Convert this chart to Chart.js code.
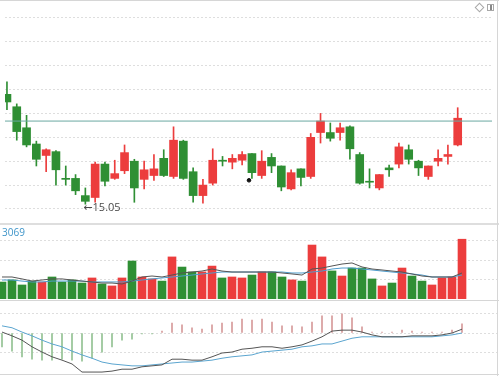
<!DOCTYPE html>
<html>
<head>
<meta charset="utf-8">
<script src="https://cdn.jsdelivr.net/npm/chart.js@4"></script>
<style>
  html, body { margin: 0; padding: 0; background: #fff; }
  #wrap { position: relative; width: 499px; height: 376px; overflow: hidden; font-family: "Open Sans", "DejaVu Sans", sans-serif; }
  .panel { position: absolute; left: 0; width: 497px; }
  .hline { position: absolute; left: 0; width: 499px; background: #d6d6d6; }
  .vline { position: absolute; top: 0; width: 1px; height: 376px; background: #d6d6d6; }
  #volLabel { position: absolute; left: 2px; top: 225px; font-size: 10px; color: #3f95c9; }
  #icoDiamond { position: absolute; left: 476px; top: 4px; width: 5px; height: 5px; border: 1px solid #a8a8a8; transform: rotate(45deg); }
  #icoBox { position: absolute; left: 487px; top: 4px; width: 5px; height: 5px; border: 1px solid #a8a8a8; }
  #icoBox div { position: absolute; left: 2px; top: 0; width: 2px; height: 5px; background: #888; }
</style>
</head>
<body>
<div id="wrap">
  <div class="panel" style="top:0;height:224px"><canvas id="kChart" width="497" height="224"></canvas></div>
  <div class="panel" style="top:224px;height:75px"><canvas id="volChart" width="497" height="75"></canvas></div>
  <div class="panel" style="top:300px;height:76px"><canvas id="macdChart" width="497" height="76"></canvas></div>
  <div class="hline" style="top:0;height:1px"></div>
  <div class="hline" style="top:223px;height:2px;background:#dedede"></div>
  <div class="hline" style="top:300px;height:1px"></div>
  <div class="hline" style="top:374px;height:1px"></div>
  <div class="vline" style="left:497px"></div>
  <div id="volLabel">3069</div>
  <div id="icoDiamond"></div>
  <div id="icoBox"><div></div></div>
</div>
<script>
// price candles (red = up, green = down)
const openPx  = [16.20,16.07,15.85,15.68,15.56,15.60,15.32,15.32,15.14,15.12,15.47,15.32,15.40,15.50,15.31,15.35,15.53,15.34,15.71,15.39,15.14,15.27,15.51,15.49,15.51,15.58,15.35,15.54,15.45,15.21,15.42,15.34,15.80,15.80,15.80,15.86,15.57,15.29,15.22,15.43,15.47,15.62,15.50,15.34,15.50,15.55,15.67];
const closePx = [16.12,15.81,15.67,15.52,15.62,15.41,15.31,15.19,15.08,15.47,15.29,15.37,15.59,15.22,15.41,15.42,15.35,15.72,15.32,15.14,15.25,15.51,15.50,15.53,15.57,15.38,15.50,15.45,15.23,15.38,15.33,15.75,15.92,15.74,15.85,15.63,15.27,15.28,15.36,15.41,15.65,15.52,15.43,15.45,15.53,15.57,15.95];
const highPx  = [16.33,16.10,15.98,15.71,15.63,15.61,15.45,15.36,15.22,15.49,15.49,15.51,15.67,15.52,15.50,15.57,15.62,15.86,15.72,15.43,15.31,15.63,15.55,15.57,15.60,15.58,15.61,15.58,15.45,15.41,15.42,15.79,16.00,15.90,15.90,15.87,15.59,15.42,15.36,15.46,15.69,15.67,15.51,15.45,15.62,15.67,16.06];
const lowPx   = [16.04,15.72,15.65,15.45,15.39,15.25,15.25,15.15,15.05,15.07,15.24,15.31,15.37,15.07,15.21,15.30,15.34,15.32,15.31,15.07,15.06,15.25,15.45,15.42,15.46,15.32,15.32,15.38,15.19,15.20,15.24,15.32,15.69,15.71,15.72,15.52,15.26,15.22,15.20,15.34,15.43,15.47,15.35,15.31,15.45,15.47,15.66];
const refPrice = 15.92;
const markPoint = { x: 24.7, y: 15.30 };
const priceGrid = [15.00,15.25,15.50,15.75,16.00,16.25,16.50,16.75,17.00];

// volume panel
const volume  = [870,980,720,920,870,1130,870,980,820,1080,770,670,1080,1950,1130,1030,920,2160,1640,1390,1390,1690,1080,1130,1080,1230,1390,1390,1130,980,920,2770,2160,1440,1180,1590,1590,1030,670,820,1590,1180,920,720,1080,1130,3069];
const volMa5  = [1130,1130,1030,920,975,1030,1030,975,920,875,820,820,770,920,1130,1180,1130,1230,1335,1385,1435,1540,1435,1385,1385,1385,1385,1385,1335,1285,1230,1540,1590,1695,1795,1850,1645,1540,1490,1435,1385,1285,1180,1130,1130,1130,1335];
const volMa10 = [975,975,920,875,875,920,920,920,920,875,875,875,875,920,975,1030,1080,1130,1180,1230,1285,1335,1385,1385,1385,1385,1385,1385,1385,1335,1335,1385,1435,1540,1590,1590,1540,1490,1435,1385,1335,1285,1230,1130,1130,1130,1230];
const volGrid = [1000,2000,3000];

// MACD panel
const dif = [0.002,-0.006,-0.015,-0.029,-0.040,-0.050,-0.057,-0.065,-0.082,-0.082,-0.082,-0.080,-0.076,-0.076,-0.071,-0.069,-0.067,-0.055,-0.055,-0.057,-0.057,-0.050,-0.042,-0.040,-0.034,-0.032,-0.029,-0.029,-0.032,-0.029,-0.025,-0.017,-0.008,0.004,0.006,0.006,0.002,-0.004,-0.008,-0.008,-0.008,-0.006,-0.006,-0.006,-0.004,0.000,0.008];
const dea = [0.015,0.011,0.002,-0.006,-0.015,-0.023,-0.029,-0.038,-0.046,-0.053,-0.061,-0.065,-0.067,-0.069,-0.069,-0.067,-0.065,-0.063,-0.061,-0.061,-0.059,-0.057,-0.053,-0.050,-0.048,-0.046,-0.040,-0.038,-0.036,-0.034,-0.029,-0.027,-0.023,-0.023,-0.017,-0.011,-0.008,-0.008,-0.008,-0.008,-0.008,-0.008,-0.008,-0.008,-0.006,-0.004,0.000];
const macdHist = [-0.029,-0.038,-0.050,-0.055,-0.057,-0.057,-0.055,-0.057,-0.059,-0.053,-0.040,-0.029,-0.015,-0.013,-0.002,-0.002,0.004,0.021,0.017,0.011,0.008,0.017,0.021,0.023,0.029,0.027,0.029,0.023,0.015,0.015,0.013,0.023,0.036,0.036,0.040,0.032,0.013,0.002,0.002,0.002,0.006,0.004,0.002,0.002,0.002,0.006,0.019];
const macdGrid = [-0.04,0,0.04];

const UP = '#ec3d3d', DOWN = '#2f8f34';
const idx = openPx.map((_, i) => i);
const candleColor = idx.map(i => closePx[i] >= openPx[i] ? UP : DOWN);
const xScale = { type: 'linear', min: -0.2, max: 49.5, offset: false, display: false };

function gridScale(min, max, values) {
  return {
    min, max,
    afterBuildTicks: (axis) => { axis.ticks = values.map(v => ({ value: v })); },
    ticks: { display: false },
    grid: { color: '#dedede', drawTicks: false },
    border: { display: false, dash: [2, 2] }
  };
}
const baseOpts = (yScale) => ({
  responsive: false, animation: false,
  layout: { padding: 0 },
  plugins: { legend: { display: false }, tooltip: { enabled: false } },
  scales: { x: xScale, y: yScale }
});
const line = (data, color) => ({
  type: 'line', data: data.map((v, i) => ({ x: i, y: v })),
  borderColor: color, borderWidth: 1, pointRadius: 0, tension: 0, fill: false
});

const lowLabel = {
  id: 'lowLabel',
  afterDatasetsDraw(chart) {
    const lo = Math.min(...lowPx), i = lowPx.indexOf(lo);
    const x = chart.scales.x.getPixelForValue(i), y = chart.scales.y.getPixelForValue(lo);
    const ctx = chart.ctx;
    ctx.save();
    ctx.fillStyle = '#4a4a4a';
    ctx.font = '11px "Open Sans", "DejaVu Sans", sans-serif';
    ctx.textBaseline = 'middle';
    ctx.fillText('\u2190' + lo.toFixed(2), x - 2, y + 4);
    ctx.restore();
  }
};

new Chart(document.getElementById('kChart'), {
  type: 'bar',
  data: { datasets: [
    { type: 'line', data: [{ x: -1, y: refPrice }, { x: 51, y: refPrice }], borderColor: '#6aa8a2', borderWidth: 1, pointRadius: 0 },
    { data: idx.map(i => ({ x: i, y: [lowPx[i], highPx[i]] })), backgroundColor: candleColor, barThickness: 1, grouped: false },
    { data: idx.map(i => ({ x: i, y: [openPx[i], closePx[i]] })), backgroundColor: candleColor, barThickness: 8, minBarLength: 1, grouped: false },
    { type: 'scatter', data: [markPoint], backgroundColor: '#111', borderColor: '#111', pointRadius: 1.8 }
  ] },
  options: baseOpts(gridScale(14.895, 17.135, priceGrid)),
  plugins: [lowLabel]
});

new Chart(document.getElementById('volChart'), {
  type: 'bar',
  data: { datasets: [
    line(volMa5, '#555'),
    line(volMa10, '#4d9ccc'),
    { data: volume.map((v, i) => ({ x: i, y: v })), backgroundColor: candleColor, barThickness: 8, grouped: false }
  ] },
  options: baseOpts(gridScale(0, 3850, volGrid))
});

new Chart(document.getElementById('macdChart'), {
  type: 'bar',
  data: { datasets: [
    line(dif, '#555'),
    line(dea, '#5ba5cf'),
    { data: macdHist.map((v, i) => ({ x: i, y: v })), backgroundColor: macdHist.map(v => v >= 0 ? '#d69a9a' : '#93c293'), barThickness: 1, grouped: false }
  ] },
  options: baseOpts(gridScale(-0.0903, 0.0693, macdGrid))
});
</script>
</body>
</html>
